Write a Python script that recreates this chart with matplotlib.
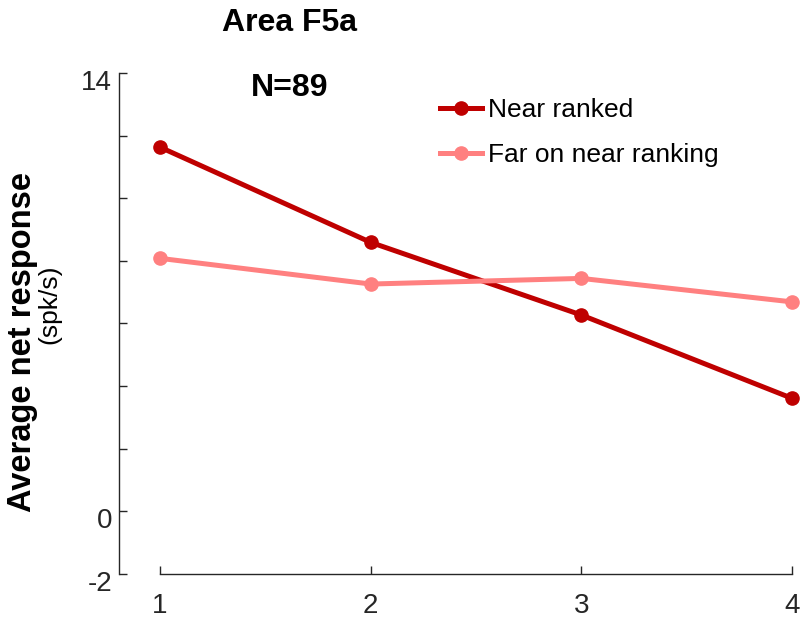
import matplotlib

matplotlib.use("Agg")
import matplotlib.pyplot as plt
import matplotlib.transforms as mtransforms

plt.rcParams["font.family"] = ["Liberation Sans", "DejaVu Sans"]

# Ranking positions and mean responses (spk/s)
rank = [1, 2, 3, 4]
near_ranked = [11.63, 8.59, 6.27, 3.61]
far_on_near = [8.08, 7.26, 7.44, 6.69]

ytick_vals = [-2, 0, 2, 4, 6, 8, 10, 12, 14]
ytick_labels = ["-2", "0", "", "", "", "", "", "", "14"]

near_col = (0.75, 0.0, 0.0)
far_col = (1.0, 0.5, 0.5)
axis_col = (0.15, 0.15, 0.15)

fig = plt.figure(figsize=(8.02, 6.18), dpi=100)
ax = fig.add_axes([0.1484, 0.0712, 0.8392, 0.8107])

ax.plot(rank, near_ranked, color=near_col, linewidth=3.6, marker="o",
        markersize=9.5, clip_on=False, zorder=3, label="Near ranked")
ax.plot(rank, far_on_near, color=far_col, linewidth=3.6, marker="o",
        markersize=9.5, clip_on=False, zorder=3, label="Far on near ranking")

ax.set_xlim(0.805, 4.0)
ax.set_ylim(-2, 14)
ax.set_xticks(rank)
ax.set_yticks(ytick_vals)
ax.set_yticklabels(ytick_labels)

for s in ("top", "right"):
    ax.spines[s].set_visible(False)
for s in ("left", "bottom"):
    ax.spines[s].set_color(axis_col)
    ax.spines[s].set_linewidth(1.0)
ax.spines["bottom"].set_bounds(1, 4)
ax.tick_params(direction="in", length=6, width=1.0, color=axis_col,
               labelcolor=axis_col, labelsize=20)
ax.tick_params(axis="x", pad=14)
ax.tick_params(axis="y", pad=5)

# MATLAB-style y tick labels sit a little below their ticks
shift = mtransforms.ScaledTranslation(0, -7 / 100, fig.dpi_scale_trans)
for lab in ax.get_yticklabels():
    lab.set_transform(lab.get_transform() + shift)

fig.text(23 / 802, 1 - 342 / 618, "Average net response", rotation=90,
         ha="center", va="center", fontsize=23.5, fontweight="bold")
fig.text(49 / 802, 1 - 304 / 618, "(spk/s)", rotation=90,
         ha="center", va="center", fontsize=19)

fig.text(290 / 802, 1 - 23 / 618, "Area F5a", ha="center", va="center",
         fontsize=23, fontweight="bold")
ax.text(0.254, 0.97, "N=89", transform=ax.transAxes, ha="center", va="center",
        fontsize=23, fontweight="bold")

ax.legend(loc="upper left", bbox_to_anchor=(0.477, 0.95), frameon=False,
          fontsize=19, handlelength=1.6, handletextpad=0.2, labelspacing=0.8,
          borderaxespad=0, borderpad=0)

fig.savefig("out.png")
